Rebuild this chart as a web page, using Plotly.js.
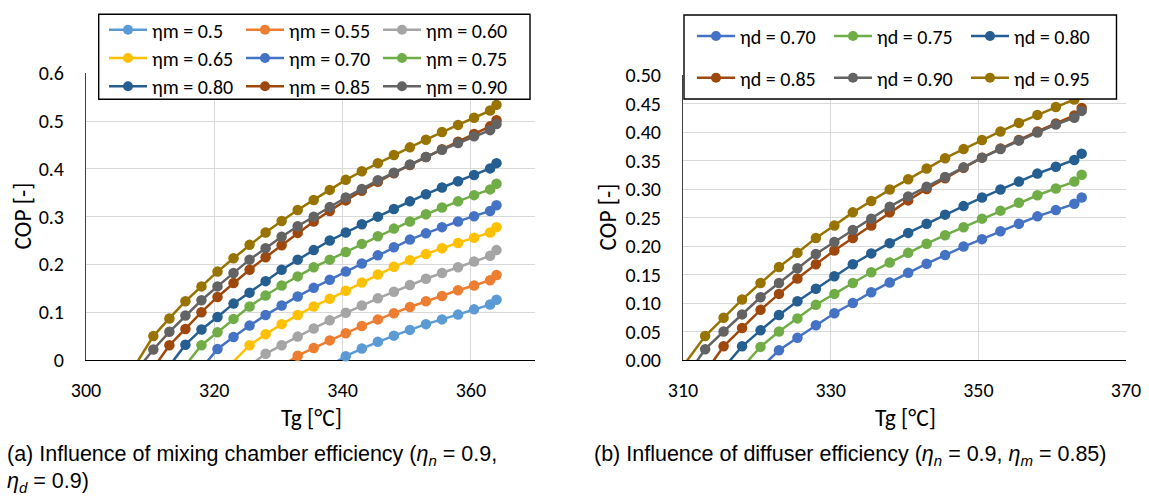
<!DOCTYPE html>
<html>
<head>
<meta charset="utf-8">
<script src="https://cdn.plot.ly/plotly-3.0.1.min.js"></script>
<style>
  html, body { margin: 0; padding: 0; background: #fff; }
  #chart { width: 1149px; height: 497px; }
</style>
</head>
<body>
<div id="chart"></div>
<script>
// Generator temperature grid, °C (shared by every curve)
const tg = [308, 310.5, 313, 315.5, 318, 320.5, 323, 325.5, 328, 330.5, 333, 335.5,
            338, 340.5, 343, 345.5, 348, 350.5, 353, 355.5, 358, 360.5, 363, 364];

// (a) COP vs Tg for each mixing chamber efficiency
const copM050 = [null, null, null, null, null, null, null, null, null, null, null, null,
                 -0.012, 0.008, 0.024, 0.038, 0.051, 0.063, 0.075, 0.085, 0.095, 0.106, 0.116, 0.126];
const copM055 = [null, null, null, null, null, null, null, null, null, -0.013, 0.009, 0.025,
                 0.041, 0.056, 0.071, 0.085, 0.098, 0.111, 0.123, 0.134, 0.146, 0.156, 0.167, 0.178];
const copM060 = [null, null, null, null, null, null, null, -0.012, 0.013, 0.031, 0.049, 0.066,
                 0.083, 0.099, 0.114, 0.129, 0.143, 0.157, 0.170, 0.182, 0.194, 0.206, 0.218, 0.230];
const copM065 = [null, null, null, null, null, null, -0.003, 0.031, 0.054, 0.075, 0.094, 0.112,
                 0.128, 0.145, 0.162, 0.179, 0.195, 0.209, 0.222, 0.234, 0.245, 0.256, 0.267, 0.278];
const copM070 = [null, null, null, null, -0.018, 0.023, 0.048, 0.072, 0.094, 0.114, 0.133, 0.151,
                 0.168, 0.185, 0.202, 0.219, 0.236, 0.252, 0.265, 0.278, 0.290, 0.301, 0.312, 0.324];
const copM075 = [null, null, null, -0.011, 0.031, 0.058, 0.086, 0.112, 0.135, 0.156, 0.175, 0.194,
                 0.210, 0.226, 0.243, 0.259, 0.275, 0.290, 0.305, 0.319, 0.332, 0.345, 0.357, 0.369];
const copM080 = [null, null, -0.012, 0.032, 0.064, 0.090, 0.118, 0.141, 0.165, 0.189, 0.210, 0.230,
                 0.250, 0.267, 0.284, 0.300, 0.316, 0.332, 0.347, 0.361, 0.374, 0.387, 0.401, 0.412];
const copM085 = [null, -0.017, 0.031, 0.065, 0.100, 0.132, 0.161, 0.189, 0.215, 0.240, 0.266, 0.290,
                 0.312, 0.334, 0.354, 0.373, 0.391, 0.408, 0.425, 0.441, 0.457, 0.473, 0.489, 0.502];
const copM090 = [-0.020, 0.022, 0.059, 0.093, 0.125, 0.154, 0.182, 0.210, 0.234, 0.258, 0.280, 0.300,
                 0.320, 0.340, 0.358, 0.376, 0.392, 0.409, 0.425, 0.440, 0.454, 0.468, 0.481, 0.494];
const copM095 = [-0.004, 0.050, 0.087, 0.123, 0.154, 0.185, 0.213, 0.241, 0.267, 0.291, 0.314, 0.335,
                 0.356, 0.377, 0.395, 0.412, 0.429, 0.445, 0.461, 0.477, 0.492, 0.507, 0.522, 0.534];

// (b) COP vs Tg for each diffuser efficiency
const copD070 = [null, null, null, null, null, -0.014, 0.017, 0.039, 0.061, 0.082, 0.100, 0.119,
                 0.136, 0.153, 0.169, 0.184, 0.199, 0.212, 0.226, 0.239, 0.252, 0.263, 0.274, 0.285];
const copD075 = [null, null, null, null, -0.013, 0.023, 0.050, 0.073, 0.097, 0.116, 0.135, 0.154,
                 0.171, 0.188, 0.204, 0.219, 0.233, 0.248, 0.262, 0.276, 0.289, 0.301, 0.313, 0.325];
const copD080 = [null, null, null, -0.014, 0.024, 0.052, 0.079, 0.103, 0.125, 0.147, 0.168, 0.187,
                 0.205, 0.223, 0.239, 0.255, 0.270, 0.285, 0.299, 0.313, 0.327, 0.339, 0.351, 0.362];
const copD085 = [null, null, -0.022, 0.024, 0.056, 0.088, 0.116, 0.143, 0.168, 0.192, 0.214, 0.236,
                 0.259, 0.280, 0.300, 0.319, 0.337, 0.355, 0.371, 0.386, 0.401, 0.415, 0.429, 0.442];
const copD090 = [null, -0.028, 0.019, 0.050, 0.080, 0.110, 0.135, 0.161, 0.186, 0.207, 0.228, 0.248,
                 0.269, 0.287, 0.304, 0.321, 0.338, 0.355, 0.370, 0.385, 0.399, 0.413, 0.425, 0.437];
const copD095 = [null, -0.002, 0.042, 0.074, 0.106, 0.135, 0.163, 0.188, 0.214, 0.236, 0.259, 0.279,
                 0.299, 0.317, 0.336, 0.354, 0.370, 0.386, 0.401, 0.416, 0.430, 0.444, 0.457, 0.466];

const labelsM = ['ηm = 0.5', 'ηm = 0.55', 'ηm = 0.60', 'ηm = 0.65', 'ηm = 0.70',
                 'ηm = 0.75', 'ηm = 0.80', 'ηm = 0.85', 'ηm = 0.90', 'ηm = 0.95'];
const labelsD = ['ηd = 0.70', 'ηd = 0.75', 'ηd = 0.80', 'ηd = 0.85', 'ηd = 0.90', 'ηd = 0.95'];

// Office palette
const colorsM = ['#5B9BD5', '#ED7D31', '#A5A5A5', '#FFC000', '#4472C4',
                 '#70AD47', '#255E91', '#9E480E', '#636363', '#997300'];
const colorsD = ['#4472C4', '#70AD47', '#255E91', '#9E480E', '#636363', '#997300'];

const seriesM = [copM050, copM055, copM060, copM065, copM070, copM075, copM080, copM085, copM090, copM095];
const seriesD = [copD070, copD075, copD080, copD085, copD090, copD095];

const W = 1149, H = 497;
const fx = p => p / W;        // pixel -> paper x
const fy = p => 1 - p / H;    // pixel -> paper y

const uiFont = 'Carlito, Calibri, Lato, sans-serif';
const capFont = '"Liberation Sans", Arial, sans-serif';
const MS = 10.5;

// points below the axis keep the line running down to it but hide their marker
const sizesFor = ys => ys.map(v => (v !== null && v < 0) ? 0 : MS);

function makeTrace(ys, name, color, xa, ya, legendId, showLegend) {
  return {
    type: 'scatter', mode: 'lines+markers',
    x: tg, y: ys, name: name,
    xaxis: xa, yaxis: ya,
    legend: legendId, showlegend: showLegend,
    cliponaxis: false,
    connectgaps: false,
    line: { color: color, width: 2.5 },
    marker: { color: color, size: sizesFor(ys), opacity: 1, symbol: 'circle', line: { width: 0 } },
    hoverinfo: 'x+y+name'
  };
}

const legendRowsM = ['legend', 'legend2', 'legend3'];
const legendRowsD = ['legend4', 'legend5'];

const traces = [];
seriesM.forEach((ys, i) => {
  const inLegend = i < 9;
  traces.push(makeTrace(ys, labelsM[i], colorsM[i], 'x', 'y',
    inLegend ? legendRowsM[Math.floor(i / 3)] : 'legend', inLegend));
});
seriesD.forEach((ys, i) => {
  traces.push(makeTrace(ys, labelsD[i], colorsD[i], 'x2', 'y2', legendRowsD[Math.floor(i / 3)], true));
});

const gridColor = '#D9D9D9';
const tickFont = { family: uiFont, size: 20, color: '#000' };

function xAxis(domain, range, tick0, anchor) {
  return {
    domain: domain, range: range, tickmode: 'linear', tick0: tick0, dtick: 20,
    showgrid: true, gridcolor: gridColor, gridwidth: 1, zeroline: false,
    showline: true, linecolor: '#000', linewidth: 1.3,
    ticks: '', tickfont: tickFont, ticklabelstandoff: 12,
    anchor: anchor, layer: 'below traces', fixedrange: true
  };
}
function yAxis(domain, range, dtick, fmt, anchor) {
  return {
    domain: domain, range: range, tickmode: 'linear', tick0: 0, dtick: dtick, tickformat: fmt,
    showgrid: true, gridcolor: gridColor, gridwidth: 1, zeroline: false,
    showline: true, linecolor: '#404040', linewidth: 1,
    ticks: '', tickfont: tickFont, ticklabelstandoff: 17,
    anchor: anchor, layer: 'below traces', fixedrange: true
  };
}

function rowLegend(xPix, yPix) {
  return {
    orientation: 'h', x: fx(xPix), xanchor: 'left', y: fy(yPix), yanchor: 'middle',
    bgcolor: 'rgba(0,0,0,0)', borderwidth: 0, entrywidth: 84, entrywidthmode: 'pixels',
    itemwidth: 38, font: { family: uiFont, size: 20, color: '#000' },
    traceorder: 'normal', itemclick: false, itemdoubleclick: false
  };
}

const annFont = { family: uiFont, size: 23.5, color: '#000' };
const capStyle = { family: capFont, size: 21.5, color: '#000' };

const layout = {
  width: W, height: H,
  margin: { l: 0, r: 0, t: 0, b: 0 },
  paper_bgcolor: '#fff', plot_bgcolor: '#fff',
  xaxis: xAxis([fx(86), fx(535)], [300, 370], 300, 'y'),
  yaxis: yAxis([fy(360), fy(73.3)], [0, 0.6], 0.1, '', 'x'),
  xaxis2: xAxis([fx(683), fx(1126)], [310, 370], 310, 'y2'),
  yaxis2: yAxis([fy(360), fy(75)], [0, 0.5], 0.05, '.2f', 'x2'),
  legend: rowLegend(104, 29.8),
  legend2: rowLegend(104, 58),
  legend3: rowLegend(104, 86.2),
  legend4: rowLegend(692, 36),
  legend5: rowLegend(692, 77.7),
  shapes: [
    { type: 'rect', xref: 'paper', yref: 'paper', layer: 'above',
      x0: fx(98.7), x1: fx(530), y0: fy(99.3), y1: fy(14.3),
      fillcolor: '#fff', line: { color: '#000', width: 1.4 } },
    { type: 'rect', xref: 'paper', yref: 'paper', layer: 'above',
      x0: fx(684), x1: fx(1116.5), y0: fy(99), y1: fy(15),
      fillcolor: '#fff', line: { color: '#000', width: 1.4 } }
  ],
  annotations: [
    { text: 'COP [-]', xref: 'paper', yref: 'paper', x: fx(22), y: fy(216.5),
      textangle: -90, showarrow: false, font: annFont, xanchor: 'center', yanchor: 'middle' },
    { text: 'COP [-]', xref: 'paper', yref: 'paper', x: fx(608), y: fy(217.5),
      textangle: -90, showarrow: false, font: annFont, xanchor: 'center', yanchor: 'middle' },
    { text: 'Tg [°C]', xref: 'paper', yref: 'paper', x: fx(311.5), y: fy(418),
      showarrow: false, font: annFont, xanchor: 'center', yanchor: 'middle' },
    { text: 'Tg [°C]', xref: 'paper', yref: 'paper', x: fx(905), y: fy(418),
      showarrow: false, font: annFont, xanchor: 'center', yanchor: 'middle' },
    { text: '(a) Influence of mixing chamber efficiency (<i>η<sub>n</sub></i> = 0.9,',
      xref: 'paper', yref: 'paper', x: fx(5), y: fy(455), showarrow: false,
      font: capStyle, xanchor: 'left', yanchor: 'middle' },
    { text: '<i>η<sub>d</sub></i> = 0.9)',
      xref: 'paper', yref: 'paper', x: fx(5), y: fy(482), showarrow: false,
      font: capStyle, xanchor: 'left', yanchor: 'middle' },
    { text: '(b) Influence of diffuser efficiency (<i>η<sub>n</sub></i> = 0.9, <i>η<sub>m</sub></i> = 0.85)',
      xref: 'paper', yref: 'paper', x: fx(592), y: fy(455), showarrow: false,
      font: capStyle, xanchor: 'left', yanchor: 'middle' }
  ],
  showlegend: true,
  hovermode: 'closest'
};

Plotly.newPlot('chart', traces, layout, { displayModeBar: false, responsive: false });
</script>
</body>
</html>
